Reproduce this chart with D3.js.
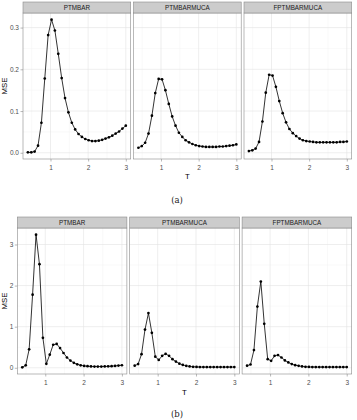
<!DOCTYPE html>
<html><head><meta charset="utf-8">
<script src="https://cdn.jsdelivr.net/npm/d3@7"></script>
<style>html,body{margin:0;padding:0;background:#fff;}svg{display:block;}</style>
</head><body>
<script>
// ---- data ----
const T = [0.400,0.490,0.579,0.669,0.759,0.848,0.938,1.028,1.117,1.207,1.297,1.386,1.476,1.566,1.655,1.745,1.834,1.924,2.014,2.103,2.193,2.283,2.372,2.462,2.552,2.641,2.731,2.821,2.910,3.000];
const panelNames = ["PTMBAR","PTMBARMUCA","FPTMBARMUCA"];
const xTicks = [1,2,3];
const yTicksA = [0.0,0.1,0.2,0.3];
const yTicksB = [0,1,2,3];
const captions = ["(a)","(b)"];

const mseA_PTMBAR = [0.001,0.001,0.003,0.017,0.072,0.178,0.282,0.319,0.293,0.237,0.179,0.131,0.097,0.072,0.056,0.045,0.038,0.033,0.030,0.028,0.028,0.029,0.031,0.034,0.037,0.041,0.046,0.051,0.058,0.065];
const mseA_PTMBARMUCA = [0.012,0.016,0.024,0.046,0.089,0.143,0.177,0.176,0.150,0.117,0.087,0.065,0.048,0.038,0.030,0.025,0.021,0.018,0.016,0.015,0.014,0.014,0.014,0.014,0.015,0.015,0.016,0.017,0.018,0.020];
const mseA_FPTMBARMUCA = [0.004,0.006,0.010,0.026,0.075,0.144,0.187,0.185,0.158,0.124,0.095,0.073,0.057,0.047,0.040,0.034,0.030,0.028,0.027,0.026,0.025,0.025,0.025,0.025,0.025,0.025,0.025,0.026,0.026,0.027];

const mseB_PTMBAR = [0.01,0.06,0.45,1.78,3.24,2.52,0.73,0.095,0.32,0.56,0.58,0.48,0.36,0.25,0.175,0.12,0.085,0.06,0.045,0.038,0.033,0.030,0.030,0.030,0.032,0.035,0.040,0.046,0.053,0.062];
const mseB_PTMBARMUCA = [0.05,0.09,0.33,0.93,1.33,0.85,0.27,0.19,0.29,0.34,0.29,0.21,0.15,0.10,0.07,0.048,0.032,0.024,0.020,0.018,0.016,0.016,0.016,0.016,0.016,0.016,0.016,0.016,0.017,0.018];
const mseB_FPTMBARMUCA = [0.05,0.08,0.43,1.49,2.10,1.07,0.21,0.17,0.29,0.31,0.25,0.18,0.13,0.09,0.064,0.048,0.032,0.024,0.020,0.018,0.017,0.016,0.016,0.016,0.016,0.016,0.016,0.016,0.016,0.016];

const blocks = [
  {series:[mseA_PTMBAR,mseA_PTMBARMUCA,mseA_FPTMBARMUCA], yTicks:yTicksA, fmt:d3.format(".1f"),
   top:2, left:23, tickY:170, titleY:178.5, capY:203, mseX:6.5},
  {series:[mseB_PTMBAR,mseB_PTMBARMUCA,mseB_FPTMBARMUCA], yTicks:yTicksB, fmt:d3.format("d"),
   top:217, left:17.3, tickY:384.5, titleY:395, capY:417, mseX:6.5}
];

const SANS = "'Liberation Sans', Arial, sans-serif";
const SERIF = "'DejaVu Serif', 'Liberation Serif', serif";
const W = 357, H = 420;
const right = 351.7, gap = 2.8, stripH = 11, panelH = 146;
const svg = d3.select("body").append("svg").attr("width",W).attr("height",H);

function expand(ext){ const r = ext[1]-ext[0]; return [ext[0]-0.05*r, ext[1]+0.05*r]; }

blocks.forEach((b,bi)=>{
  const pw = (right - b.left - 2*gap)/3;
  const all = b.series.flat();
  const y = d3.scaleLinear().domain(expand(d3.extent(all))).range([b.top+stripH+panelH, b.top+stripH]);
  const yMinor = [];
  for(let i=0;i<b.yTicks.length-1;i++) yMinor.push((b.yTicks[i]+b.yTicks[i+1])/2);
  yMinor.push(b.yTicks[b.yTicks.length-1] + (b.yTicks[1]-b.yTicks[0])/2);
  const xMinor = [0.5,1.5,2.5];

  b.series.forEach((vals,pi)=>{
    const x0 = b.left + pi*(pw+gap);
    const x = d3.scaleLinear().domain(expand(d3.extent(T))).range([x0, x0+pw]);
    const g = svg.append("g");
    const pTop = b.top+stripH, pBot = pTop+panelH;
    g.append("rect").attr("x",x0).attr("y",pTop).attr("width",pw).attr("height",panelH).attr("fill","#fff");
    yMinor.filter(v=>y(v)>=pTop && y(v)<=pBot).forEach(v=>g.append("line").attr("x1",x0).attr("x2",x0+pw).attr("y1",y(v)).attr("y2",y(v)).attr("stroke","#f3f3f3").attr("stroke-width",0.5));
    xMinor.forEach(v=>g.append("line").attr("x1",x(v)).attr("x2",x(v)).attr("y1",pTop).attr("y2",pBot).attr("stroke","#f3f3f3").attr("stroke-width",0.5));
    b.yTicks.forEach(v=>g.append("line").attr("x1",x0).attr("x2",x0+pw).attr("y1",y(v)).attr("y2",y(v)).attr("stroke","#e3e3e3").attr("stroke-width",0.6));
    xTicks.forEach(v=>g.append("line").attr("x1",x(v)).attr("x2",x(v)).attr("y1",pTop).attr("y2",pBot).attr("stroke","#e3e3e3").attr("stroke-width",0.6));
    const pts = T.map((t,i)=>[t,vals[i]]);
    g.append("path").attr("d",d3.line().x(d=>x(d[0])).y(d=>y(d[1]))(pts))
      .attr("fill","none").attr("stroke","#000").attr("stroke-width",0.8);
    g.selectAll("circle").data(pts).join("circle").attr("cx",d=>x(d[0])).attr("cy",d=>y(d[1])).attr("r",1.35).attr("fill","#000");
    g.append("rect").attr("x",x0).attr("y",pTop).attr("width",pw).attr("height",panelH).attr("fill","none").attr("stroke","#8a8a8a").attr("stroke-width",0.6);
    g.append("rect").attr("x",x0).attr("y",b.top).attr("width",pw).attr("height",stripH).attr("fill","#cccccc").attr("stroke","#8a8a8a").attr("stroke-width",0.6);
    g.append("text").attr("x",x0+pw/2).attr("y",b.top+stripH/2+2.2).attr("text-anchor","middle")
      .attr("font-family",SANS).attr("font-size",6.3).attr("fill","#1a1a1a").text(panelNames[pi]);
    const xa = d3.axisBottom(x).tickValues(xTicks).tickSize(2.5).tickPadding(1.5).tickFormat(d3.format("d"));
    const ax = g.append("g").attr("transform",`translate(0,${pBot})`).call(xa);
    ax.attr("font-family",null).attr("font-size",null);
    ax.select(".domain").remove();
    ax.selectAll(".tick line").attr("stroke","#8a8a8a").attr("stroke-width",0.6);
    ax.selectAll(".tick text").attr("font-family",SANS).attr("font-size",6.5).attr("fill","#4d4d4d").attr("dy",null).attr("y",b.tickY-pBot);
    if(pi===0){
      const ya = d3.axisLeft(y).tickValues(b.yTicks).tickSize(2.5).tickPadding(1.5).tickFormat(b.fmt);
      const ay = g.append("g").attr("transform",`translate(${x0},0)`).call(ya);
      ay.attr("font-family",null).attr("font-size",null);
      ay.select(".domain").remove();
      ay.selectAll(".tick line").attr("stroke","#8a8a8a").attr("stroke-width",0.6);
      ay.selectAll(".tick text").attr("font-family",SANS).attr("font-size",6.5).attr("fill","#4d4d4d");
    }
  });
  const pMid = b.top+stripH+panelH/2;
  svg.append("text").attr("transform",`translate(${b.mseX},${pMid}) rotate(-90)`).attr("text-anchor","middle")
    .attr("font-family",SANS).attr("font-size",7.8).attr("fill","#000").text("MSE");
  const cx = (b.left+right)/2;
  svg.append("text").attr("x",cx).attr("y",b.titleY).attr("text-anchor","middle")
    .attr("font-family",SANS).attr("font-size",7.8).attr("fill","#000").text("T");
  svg.append("text").attr("x",177).attr("y",b.capY).attr("text-anchor","middle")
    .attr("font-family",SERIF).attr("font-size",8.5).attr("fill","#222").text(captions[bi]);
});
</script>
</body></html>
